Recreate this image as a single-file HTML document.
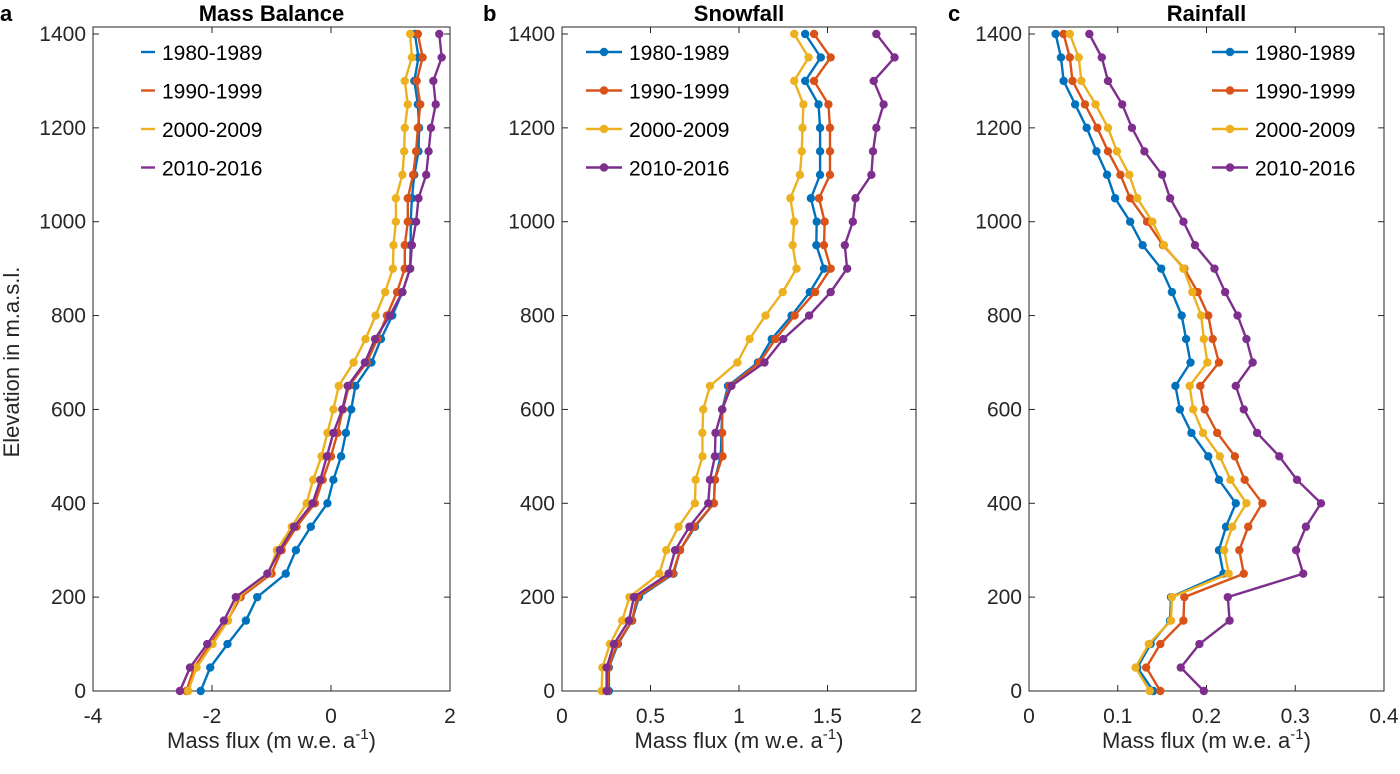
<!DOCTYPE html>
<html><head><meta charset="utf-8"><style>
body{margin:0;background:#fff;}
svg{font-family:"Liberation Sans",Arial,sans-serif;}
</style></head><body>
<svg id="fig" width="1400" height="769" viewBox="0 0 1400 769"></svg>
<script>
const elevations=[1400,1350,1300,1250,1200,1150,1100,1050,1000,950,900,850,800,750,700,650,600,550,500,450,400,350,300,250,200,150,100,50,0];
const seriesNames=["1980-1989","1990-1999","2000-2009","2010-2016"];
const colors=["#0072BD","#D95319","#EDB120","#7E2F8E"];
const mbBlue=[1.41,1.47,1.40,1.46,1.48,1.47,1.40,1.36,1.34,1.34,1.33,1.20,1.03,0.84,0.68,0.41,0.34,0.25,0.17,0.04,-0.06,-0.34,-0.59,-0.76,-1.24,-1.43,-1.74,-2.03,-2.19];
const mbRed=[1.46,1.54,1.44,1.50,1.46,1.43,1.38,1.29,1.29,1.24,1.24,1.11,0.94,0.78,0.60,0.30,0.20,0.11,0.00,-0.14,-0.27,-0.58,-0.83,-1.00,-1.52,-1.74,-2.03,-2.30,-2.43];
const mbYellow=[1.33,1.36,1.24,1.29,1.24,1.23,1.20,1.09,1.09,1.05,1.04,0.91,0.75,0.58,0.38,0.13,0.04,-0.06,-0.16,-0.30,-0.41,-0.66,-0.91,-1.05,-1.56,-1.73,-1.99,-2.26,-2.40];
const mbPurple=[1.82,1.86,1.72,1.76,1.68,1.64,1.60,1.47,1.43,1.36,1.33,1.20,0.99,0.74,0.57,0.28,0.19,0.04,-0.07,-0.18,-0.31,-0.62,-0.86,-1.07,-1.60,-1.80,-2.08,-2.37,-2.54];
const sfBlue=[1.374,1.462,1.374,1.449,1.458,1.458,1.458,1.406,1.439,1.437,1.480,1.400,1.297,1.185,1.107,0.938,0.905,0.901,0.897,0.864,0.858,0.751,0.667,0.630,0.434,0.396,0.316,0.265,0.265];
const sfRed=[1.424,1.518,1.424,1.505,1.514,1.514,1.514,1.452,1.484,1.480,1.518,1.430,1.314,1.206,1.116,0.948,0.905,0.905,0.907,0.864,0.858,0.746,0.667,0.626,0.424,0.396,0.312,0.262,0.256];
const sfYellow=[1.312,1.393,1.312,1.364,1.359,1.355,1.344,1.290,1.312,1.303,1.325,1.247,1.150,1.060,0.991,0.836,0.798,0.793,0.794,0.755,0.751,0.658,0.589,0.550,0.381,0.340,0.271,0.228,0.224];
const sfPurple=[1.776,1.879,1.761,1.817,1.776,1.757,1.748,1.658,1.643,1.598,1.611,1.518,1.396,1.250,1.144,0.957,0.905,0.867,0.864,0.836,0.826,0.720,0.639,0.602,0.406,0.378,0.293,0.252,0.252];
const rfBlue=[0.030,0.036,0.039,0.052,0.065,0.076,0.088,0.097,0.114,0.128,0.149,0.161,0.172,0.177,0.182,0.165,0.170,0.183,0.202,0.214,0.233,0.222,0.214,0.219,0.160,0.159,0.137,0.122,0.140];
const rfRed=[0.039,0.046,0.049,0.063,0.077,0.089,0.103,0.114,0.133,0.151,0.175,0.190,0.202,0.207,0.214,0.193,0.198,0.212,0.232,0.243,0.263,0.247,0.237,0.242,0.175,0.174,0.148,0.132,0.148];
const rfYellow=[0.046,0.056,0.059,0.075,0.089,0.099,0.113,0.122,0.139,0.152,0.174,0.184,0.194,0.197,0.201,0.181,0.185,0.196,0.215,0.227,0.245,0.229,0.220,0.225,0.161,0.160,0.135,0.120,0.136];
const rfPurple=[0.068,0.082,0.089,0.105,0.116,0.130,0.150,0.159,0.174,0.187,0.209,0.221,0.235,0.245,0.252,0.233,0.242,0.257,0.282,0.302,0.329,0.312,0.301,0.309,0.224,0.226,0.192,0.171,0.197];
const yTicks=[0,200,400,600,800,1000,1200,1400];
const aTicks=[-4,-2,0,2], bTicks=[0,0.5,1,1.5,2], cTicks=[0,0.1,0.2,0.3,0.4];

const NS="http://www.w3.org/2000/svg";
const svg=document.getElementById('fig');
function mk(tag,attrs,parent){const e=document.createElementNS(NS,tag);for(const k in attrs)e.setAttribute(k,attrs[k]);(parent||svg).appendChild(e);return e;}
const Y0=691,Y1=34,TOP=27;
function yPix(v){return Y0-(v/1400)*(Y0-Y1);}

function panel(key,letter,letterX,title,x0,x1,xmin,xmax,ticks,series,legX,legLine){
  const g=mk('g',{});
  
  
  const xPix=v=>x0+(v-xmin)/(xmax-xmin)*(x1-x0);
  const box=mk('rect',{x:x0,y:TOP,width:x1-x0,height:Y0-TOP,fill:'none',stroke:'#262626','stroke-width':1},g);
  
  
  ticks.forEach(t=>{
    const x=xPix(t);
    mk('line',{x1:x,x2:x,y1:Y0,y2:Y0-6,stroke:'#262626'},g);
    mk('line',{x1:x,x2:x,y1:TOP,y2:TOP+6,stroke:'#262626'},g);
    const tl=mk('text',{x:x,y:Y0+32,'text-anchor':'middle','font-size':21,fill:'#262626'},g);
    tl.textContent=String(t);
    
    
  });
  yTicks.forEach(t=>{
    const y=yPix(t);
    mk('line',{x1:x0,x2:x0+6,y1:y,y2:y,stroke:'#262626'},g);
    mk('line',{x1:x1,x2:x1-6,y1:y,y2:y,stroke:'#262626'},g);
    const tl=mk('text',{x:x0-7,y:y+7,'text-anchor':'end','font-size':21,fill:'#262626'},g);
    tl.textContent=String(t);
    
    
  });
  series.forEach((vals,i)=>{
    const pts=vals.map((v,j)=>xPix(v).toFixed(1)+','+yPix(elevations[j]).toFixed(1)).join(' ');
    const pl=mk('polyline',{points:pts,fill:'none',stroke:colors[i],'stroke-width':2.4},g);
    
    
    vals.forEach((v,j)=>{
      const c=mk('circle',{cx:xPix(v),cy:yPix(elevations[j]),r:4.2,fill:colors[i]},g);
      
      
    });
  });
  seriesNames.forEach((n,i)=>{
    const y=52+i*38.5;
    const lg=mk('g',{},g);
    
    
    mk('line',{x1:legX,x2:legX+legLine,y1:y,y2:y,stroke:colors[i],'stroke-width':2.4},lg);
    if(legLine>20) mk('circle',{cx:legX+legLine/2,cy:y,r:4.2,fill:colors[i]},lg);
    const t=mk('text',{x:legX+legLine+7,y:y+8,'font-size':21,fill:'#000'},lg);
    t.textContent=n;
  });
  const tt=mk('text',{x:(x0+x1)/2,y:21,'text-anchor':'middle','font-size':22,'font-weight':'bold',fill:'#000'},g);
  tt.textContent=title;
  
  
  const lt=mk('text',{x:letterX,y:21,'font-size':22,'font-weight':'bold',fill:'#000'},g);
  lt.textContent=letter;
  
  
  const xl=mk('text',{x:(x0+x1)/2,y:748,'text-anchor':'middle','font-size':22,fill:'#262626'},g);
  xl.innerHTML='Mass flux (m w.e. a<tspan dy="-9" font-size="15">-1</tspan><tspan dy="9">)</tspan>';
  
  
}
panel('a','a',0,'Mass Balance',93,450,-4,2,aTicks,[mbBlue,mbRed,mbYellow,mbPurple],141,14);
panel('b','b',483,'Snowfall',562,916,0,2,bTicks,[sfBlue,sfRed,sfYellow,sfPurple],586,36);
panel('c','c',948,'Rainfall',1029,1384,0,0.4,cTicks,[rfBlue,rfRed,rfYellow,rfPurple],1212,36);
const yl=mk('text',{x:0,y:0,transform:'translate(19,362) rotate(-90)','text-anchor':'middle','font-size':22,fill:'#262626'});
yl.textContent='Elevation in m.a.s.l.';


</script>
</body></html>
